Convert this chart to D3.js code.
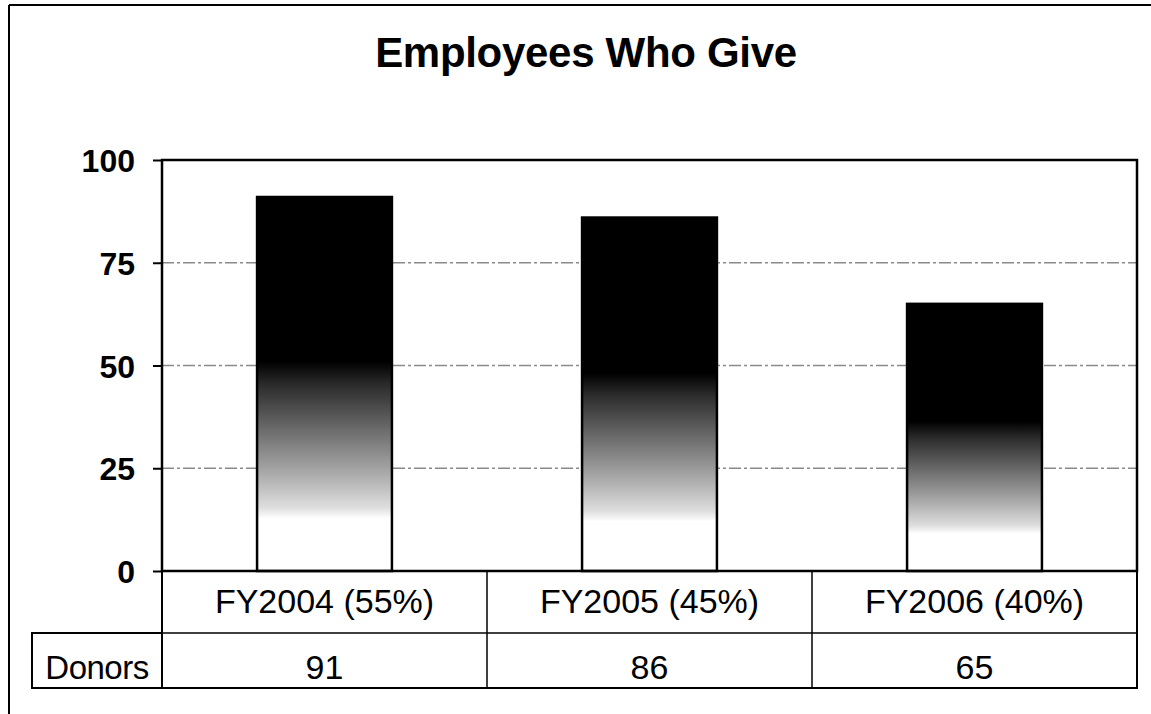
<!DOCTYPE html>
<html>
<head>
<meta charset="utf-8">
<script src="https://cdn.jsdelivr.net/npm/d3@7"></script>
<style>
  html, body { margin: 0; padding: 0; background: #fff; }
  svg { display: block; font-family: "Liberation Sans", Arial, sans-serif; }
</style>
</head>
<body>
<svg id="chart" width="1151" height="714"></svg>
<script>
const title = "Employees Who Give";
const categories = ["FY2004 (55%)", "FY2005 (45%)", "FY2006 (40%)"];
const donors = [91, 86, 65];
const yTicks = [0, 25, 50, 75, 100];
const gridTicks = [25, 50, 75];
const rowLabel = "Donors";

const svg = d3.select("#chart");
const plot = { left: 162, right: 1137, top: 160, bottom: 571 };
const tableRow1 = 633, tableBottom = 688, donorsLeft = 32;

const x = d3.scaleBand().domain(categories).range([plot.left, plot.right])
  .paddingInner(0.585).paddingOuter(0.2925);
const xCell = d3.scaleBand().domain(categories).range([plot.left, plot.right]).padding(0);
const y = d3.scaleLinear().domain([0, 100]).range([plot.bottom, plot.top]);

// outer frame (top and left visible)
svg.append("line").attr("x1", 9).attr("x2", 1151).attr("y1", 5).attr("y2", 5)
  .attr("stroke", "#000").attr("stroke-width", 2);
svg.append("line").attr("x1", 9).attr("x2", 9).attr("y1", 5).attr("y2", 714)
  .attr("stroke", "#000").attr("stroke-width", 2);

// title
svg.append("text").attr("x", 586).attr("y", 67).attr("text-anchor", "middle")
  .attr("font-size", 42).attr("font-weight", "bold").attr("letter-spacing", -0.3)
  .attr("fill", "#000").text(title);

// gradient
const defs = svg.append("defs");
const grad = defs.append("linearGradient").attr("id", "barGrad")
  .attr("x1", 0).attr("y1", 0).attr("x2", 0).attr("y2", 1);
[[0, "#000"], [0.44, "#000"], [0.5, "#2a2a2a"], [0.62, "#6a6a6a"], [0.74, "#aaaaaa"],
 [0.83, "#dedede"], [0.86, "#fff"], [1, "#fff"]]
  .forEach(([o, c]) => grad.append("stop").attr("offset", o).attr("stop-color", c));

// gridlines
svg.append("g").selectAll("line").data(gridTicks).join("line")
  .attr("x1", plot.left).attr("x2", plot.right)
  .attr("y1", d => y(d)).attr("y2", d => y(d))
  .attr("stroke", "#8a8a8a").attr("stroke-width", 1.5)
  .attr("stroke-dasharray", "12,3,3,3");

// bars
svg.append("g").selectAll("rect").data(donors).join("rect")
  .attr("x", (d, i) => x(categories[i]))
  .attr("y", d => y(d))
  .attr("width", x.bandwidth())
  .attr("height", d => y(0) - y(d))
  .attr("fill", "url(#barGrad)")
  .attr("stroke", "#000").attr("stroke-width", 2.5);

// y axis
const yAxis = d3.axisLeft(y).tickValues(yTicks).tickSize(9).tickPadding(18)
  .tickFormat(d3.format("d"));
const ga = svg.append("g").attr("transform", `translate(${plot.left},0)`).call(yAxis);
ga.select(".domain").remove();
ga.selectAll(".tick line").attr("stroke", "#000").attr("stroke-width", 2);
ga.selectAll(".tick text").attr("font-size", 32).attr("font-weight", "bold")
  .attr("fill", "#000").attr("font-family", "Liberation Sans, Arial, sans-serif")
  .attr("dy", "0.36em");

// plot border
svg.append("rect").attr("x", plot.left).attr("y", plot.top)
  .attr("width", plot.right - plot.left).attr("height", plot.bottom - plot.top)
  .attr("fill", "none").attr("stroke", "#000").attr("stroke-width", 2.5);

// data table
const tg = svg.append("g");
tg.append("rect").attr("x", plot.left).attr("y", plot.bottom)
  .attr("width", plot.right - plot.left).attr("height", tableBottom - plot.bottom)
  .attr("fill", "none").attr("stroke", "#000").attr("stroke-width", 2);
tg.append("rect").attr("x", donorsLeft).attr("y", tableRow1)
  .attr("width", plot.left - donorsLeft).attr("height", tableBottom - tableRow1)
  .attr("fill", "none").attr("stroke", "#000").attr("stroke-width", 2);
tg.append("line").attr("x1", plot.left).attr("x2", plot.right)
  .attr("y1", tableRow1).attr("y2", tableRow1).attr("stroke", "#000").attr("stroke-width", 1.5);
tg.selectAll("line.div").data(categories.slice(1)).join("line").attr("class", "div")
  .attr("x1", d => xCell(d)).attr("x2", d => xCell(d))
  .attr("y1", plot.bottom).attr("y2", tableBottom)
  .attr("stroke", "#000").attr("stroke-width", 1.5);

tg.selectAll("text.cat").data(categories).join("text").attr("class", "cat")
  .attr("x", d => xCell(d) + xCell.bandwidth() / 2).attr("y", 613)
  .attr("text-anchor", "middle").attr("font-size", 34).attr("fill", "#000").text(d => d);
tg.selectAll("text.val").data(donors).join("text").attr("class", "val")
  .attr("x", (d, i) => xCell(categories[i]) + xCell.bandwidth() / 2).attr("y", 679)
  .attr("text-anchor", "middle").attr("font-size", 34).attr("fill", "#000").text(d => d);
tg.append("text").attr("x", (donorsLeft + plot.left) / 2).attr("y", 679)
  .attr("text-anchor", "middle").attr("font-size", 33).attr("letter-spacing", -0.5)
  .attr("fill", "#000").text(rowLabel);
</script>
</body>
</html>
